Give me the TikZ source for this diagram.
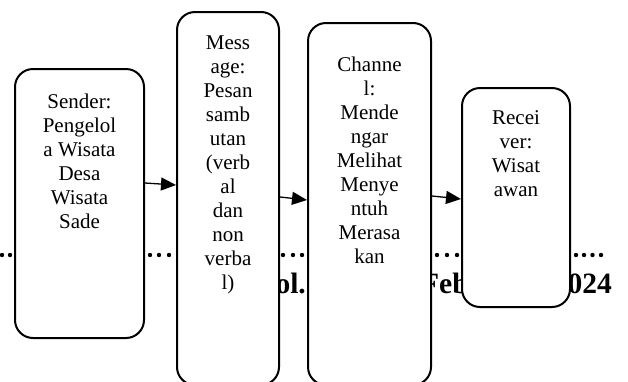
\documentclass[tikz,border=0pt]{standalone}
\usepackage{fontspec}
\setmainfont{Liberation Serif}
\usetikzlibrary{arrows.meta}
\begin{document}
\begin{tikzpicture}[x=1pt,y=-1pt,
  box/.style={draw, line width=2pt, rounded corners=18pt, fill=white, inner sep=0pt},
  boxtext/.style={anchor=north, align=center, inner sep=0pt, font=\fontsize{21}{24}\selectfont},
  hdr/.style={inner sep=0pt, font=\bfseries\fontsize{29.5}{32}\selectfont},
  arr/.style={line width=1.3pt, -{Triangle[length=15pt,width=13pt]}}]
\useasboundingbox (0,0) rectangle (628,381);
\clip (0,0) rectangle (628,381);
% background header line (mostly hidden)
\foreach \x in {2,10,150,159,169,283,293,302,437,447,457,576,584,592.5,601}
  \fill (\x,255) circle (2.2pt);
\node[hdr, anchor=base west] (vol) at (256.7,293) {Vol.};
\node[hdr, anchor=base west] (feb) at (421,293) {Feb};
\node[hdr, anchor=base east] (year) at (612,293) {2024};
% boxes
\node[box, minimum width=129pt, minimum height=269pt] (sender) at (79.5,203.5) {};
\node[box, minimum width=102pt, minimum height=373pt] (message) at (228,198.5) {};
\node[box, minimum width=123pt, minimum height=362pt] (channel) at (369.5,204) {};
\node[box, minimum width=108pt, minimum height=219pt] (receiver) at (516,197.5) {};
% texts
\node[boxtext] (sendertext) at ([yshift=-26pt]sender.north) {Sender:\\Pengelol\\a Wisata\\Desa\\Wisata\\Sade};
\node[boxtext] (messagetext) at ([yshift=-24.4pt]message.north) {Mess\\age:\\Pesan\\samb\\utan\\(verb\\al\\dan\\non\\verba\\l)};
\node[boxtext] (channeltext) at ([yshift=-34.7pt]channel.north) {Channe\\l:\\Mende\\ngar\\Melihat\\Menye\\ntuh\\Merasa\\kan};
\node[boxtext] (receivertext) at ([yshift=-23pt]receiver.north) {Recei\\ver:\\Wisat\\awan};
% connectors
\draw[arr] ([yshift=20.5pt]sender.east) -- ([yshift=13.5pt]message.west);
\draw[arr] ([yshift=1.5pt]message.east) -- ([yshift=4pt]channel.west);
\draw[arr] ([yshift=8pt]channel.east) -- ([yshift=-1.5pt]receiver.west);
\end{tikzpicture}
\end{document}
